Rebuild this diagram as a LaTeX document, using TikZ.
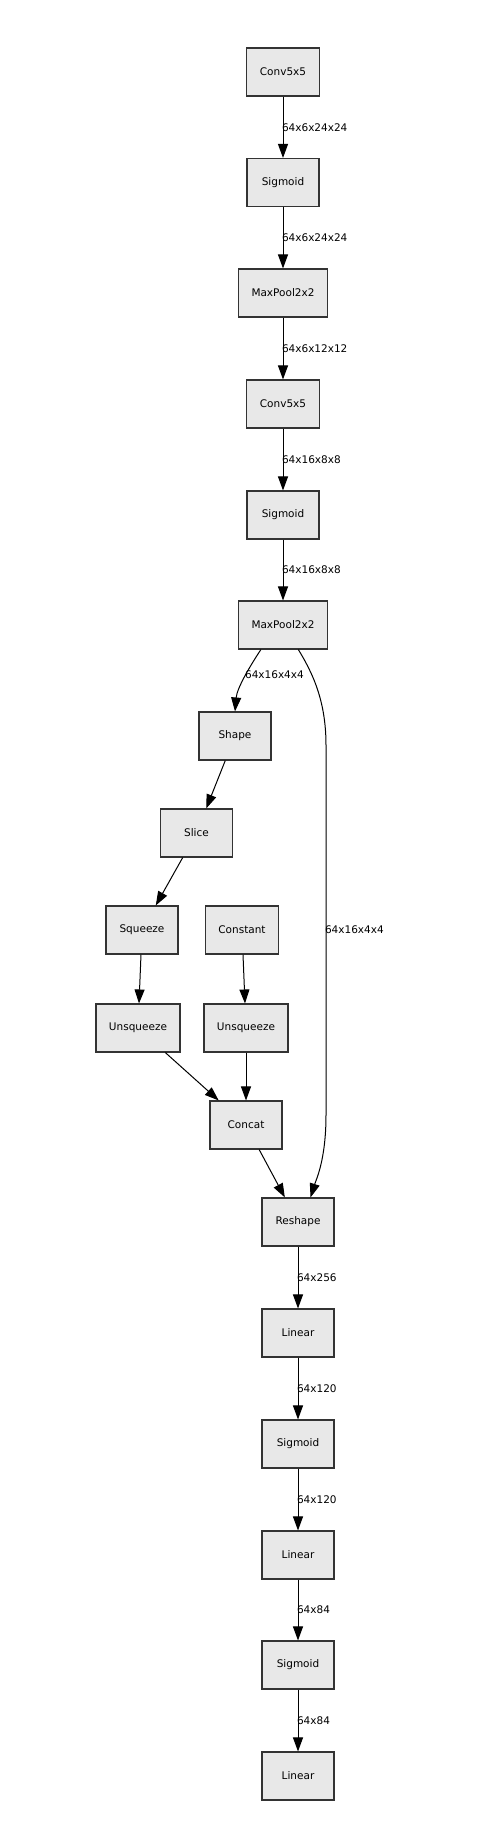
\documentclass[tikz,border=0pt]{standalone}
\usepackage{fontspec}
\setmainfont{DejaVu Sans}
\usetikzlibrary{arrows.meta}

\begin{document}
\begin{tikzpicture}[x=1pt, y=-1pt,
      op/.style = {shape=rectangle, draw=black!80, line width=1.1pt,
        fill=black!9, minimum width=72pt, minimum height=48pt,
        inner xsep=13pt, font=\fontsize{10.5}{12}\selectfont},
      lbl/.style = {anchor=west, inner sep=0pt, xshift=-1.5pt,
        font=\fontsize{10.5}{12}\selectfont},
      every path/.style = {line width=1pt},
      >={Triangle[length=14pt, width=10pt]}]
  \useasboundingbox (0,0) rectangle (483,1848);
  \node[op] (conva) at (283,72) {Conv5x5};
  \node[op] (siga) at (283,182.5) {Sigmoid};
  \node[op] (poola) at (283,293) {MaxPool2x2};
  \node[op] (convb) at (283,404) {Conv5x5};
  \node[op] (sigb) at (283,515) {Sigmoid};
  \node[op] (poolb) at (283,625) {MaxPool2x2};
  \node[op] (shape) at (235,736) {Shape};
  \node[op] (slice) at (196.5,833) {Slice};
  \node[op] (squeeze) at (142,930) {Squeeze};
  \node[op] (const) at (242,930) {Constant};
  \node[op] (unsqa) at (138,1028) {Unsqueeze};
  \node[op] (unsqb) at (246,1028) {Unsqueeze};
  \node[op] (concat) at (246,1125) {Concat};
  \node[op] (reshape) at (298,1222) {Reshape};
  \node[op] (lina) at (298,1333) {Linear};
  \node[op] (sigc) at (298,1444) {Sigmoid};
  \node[op] (linb) at (298,1555) {Linear};
  \node[op] (sigd) at (298,1665) {Sigmoid};
  \node[op] (linc) at (298,1776) {Linear};
  % the convolution part
  \draw[->] (conva) -- node[lbl] {64x6x24x24} (siga);
  \draw[->] (siga) -- node[lbl] {64x6x24x24} (poola);
  \draw[->] (poola) -- node[lbl] {64x6x12x12} (convb);
  \draw[->] (convb) -- node[lbl] {64x16x8x8} (sigb);
  \draw[->] (sigb) -- node[lbl] {64x16x8x8} (poolb);
  % shape branch
  \draw[->] (poolb.-132) .. controls (250,666) and (237,688)
    .. node[lbl, pos=0.45] {64x16x4x4} (shape.north);
  \draw[->] (shape) -- (slice);
  \draw[->] (slice) -- (squeeze);
  \draw[->] (squeeze) -- (unsqa);
  \draw[->] (const) -- (unsqb);
  \draw[->] (unsqa) -- (concat);
  \draw[->] (unsqb) -- (concat);
  \draw[->] (concat) -- (reshape);
  \draw[->] (poolb.-58) .. controls (312,672) and (326,700) .. (326,745)
    -- node[lbl] {64x16x4x4} (326,1115)
    .. controls (326,1160) and (316,1180) .. (reshape.63);
  % the linear part
  \draw[->] (reshape) -- node[lbl] {64x256} (lina);
  \draw[->] (lina) -- node[lbl] {64x120} (sigc);
  \draw[->] (sigc) -- node[lbl] {64x120} (linb);
  \draw[->] (linb) -- node[lbl] {64x84} (sigd);
  \draw[->] (sigd) -- node[lbl] {64x84} (linc);
\end{tikzpicture}
\end{document}
